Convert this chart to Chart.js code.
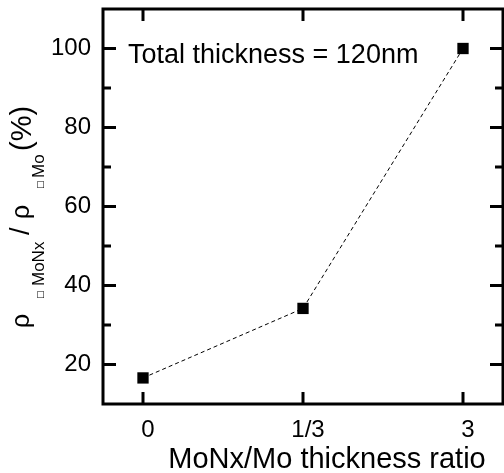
<!DOCTYPE html>
<html>
<head>
<meta charset="utf-8">
<script src="https://cdn.jsdelivr.net/npm/chart.js@4.4.0/dist/chart.umd.min.js"></script>
<style>
  html, body { margin: 0; padding: 0; background: #fff; }
</style>
</head>
<body>
<canvas id="chart" width="504" height="473"></canvas>
<script>
// data
const ratioLabels = ['0', '1/3', '3'];
const ratioPositions = [0, 1, 2];
const resistivityRatio = [16.6, 34.2, 100];
const yMajorTicks = [20, 40, 60, 80, 100];
const yMinorTicks = [30, 50, 70, 90];

const noteText = 'Total thickness = 120nm';
const xTitle = 'MoNx/Mo thickness ratio';
// y title pieces: main text and subscripts
const yTitleParts = [
    { text: 'ρ', start: 328, base: 29, size: 25, font: 'Liberation Sans' },
    { text: '□', start: 299, base: 43, size: 9, font: 'DejaVu Sans' },
    { text: 'MoNx', start: 286, base: 44, size: 17, font: 'Liberation Sans' },
    { text: '/', start: 235, base: 29, size: 27, font: 'Liberation Sans' },
    { text: 'ρ', start: 219, base: 29, size: 25, font: 'Liberation Sans' },
    { text: '□', start: 189, base: 43, size: 9, font: 'DejaVu Sans' },
    { text: 'Mo', start: 178, base: 44, size: 17, font: 'Liberation Sans' },
    { text: '(%)', start: 151, base: 31, size: 29, font: 'Liberation Sans' }
];

const FONT = '"Liberation Sans", Arial, sans-serif';

// frame, inward ticks and text
const framePlugin = {
    id: 'frame',
    afterDatasetsDraw(chart) {
        const { ctx, chartArea: a, scales } = chart;
        const x = scales.x, y = scales.y;
        ctx.save();
        ctx.strokeStyle = '#000';
        ctx.lineWidth = 3;
        ctx.strokeRect(a.left, a.top, a.right - a.left, a.bottom - a.top);

        ctx.beginPath();
        yMajorTicks.forEach(v => {
            const py = y.getPixelForValue(v);
            ctx.moveTo(a.left, py); ctx.lineTo(a.left + 13, py);
            ctx.moveTo(a.right, py); ctx.lineTo(a.right - 13, py);
        });
        yMinorTicks.forEach(v => {
            const py = y.getPixelForValue(v);
            ctx.moveTo(a.left, py); ctx.lineTo(a.left + 8, py);
            ctx.moveTo(a.right, py); ctx.lineTo(a.right - 8, py);
        });
        ratioPositions.forEach(v => {
            const px = x.getPixelForValue(v);
            ctx.moveTo(px, a.bottom); ctx.lineTo(px, a.bottom - 12);
            ctx.moveTo(px, a.top); ctx.lineTo(px, a.top + 12);
        });
        ctx.stroke();

        ctx.fillStyle = '#000';
        ctx.textBaseline = 'alphabetic';
        ctx.font = '27px ' + FONT;
        ctx.textAlign = 'left';
        ctx.fillText(noteText, 128, 63);

        ctx.font = '29px ' + FONT;
        ctx.textAlign = 'center';
        ctx.fillText(xTitle, 327, 468);

        ctx.textAlign = 'left';
        yTitleParts.forEach(p => {
            ctx.save();
            ctx.translate(p.base, p.start);
            ctx.rotate(-Math.PI / 2);
            ctx.font = p.size + 'px "' + p.font + '", sans-serif';
            ctx.fillText(p.text, 0, 0);
            ctx.restore();
        });
        ctx.restore();
    }
};

new Chart(document.getElementById('chart'), {
    type: 'line',
    data: {
        datasets: [{
            data: ratioPositions.map((p, i) => ({ x: p, y: resistivityRatio[i] })),
            borderColor: '#000',
            borderWidth: 1,
            borderDash: [4, 3],
            backgroundColor: '#000',
            pointStyle: 'rect',
            pointRadius: 8,
            pointBorderWidth: 0,
            tension: 0
        }]
    },
    options: {
        responsive: false,
        animation: false,
        layout: { autoPadding: false, padding: { top: 9, right: 1, left: 0, bottom: 0 } },
        plugins: { legend: { display: false }, tooltip: { enabled: false } },
        scales: {
            x: {
                type: 'linear',
                min: -0.25,
                max: 2.25,
                grid: { display: false, drawTicks: false },
                border: { display: false },
                afterBuildTicks: s => { s.ticks = ratioPositions.map(v => ({ value: v })); },
                afterFit: s => { s.height = 69; s.paddingLeft = 0; s.paddingRight = 0; },
                ticks: {
                    color: '#000',
                    font: { family: FONT, size: 24 },
                    padding: 12,
                    labelOffset: 5,
                    maxRotation: 0,
                    autoSkip: false,
                    callback: v => ratioLabels[ratioPositions.indexOf(v)]
                }
            },
            y: {
                min: 10,
                max: 110,
                grid: { display: false, drawTicks: false },
                border: { display: false },
                afterBuildTicks: s => { s.ticks = yMajorTicks.map(v => ({ value: v })); },
                afterFit: s => { s.width = 103; s.paddingTop = 0; s.paddingBottom = 0; },
                ticks: {
                    color: '#000',
                    font: { family: FONT, size: 24 },
                    padding: 12
                }
            }
        }
    },
    plugins: [framePlugin]
});
</script>
</body>
</html>
